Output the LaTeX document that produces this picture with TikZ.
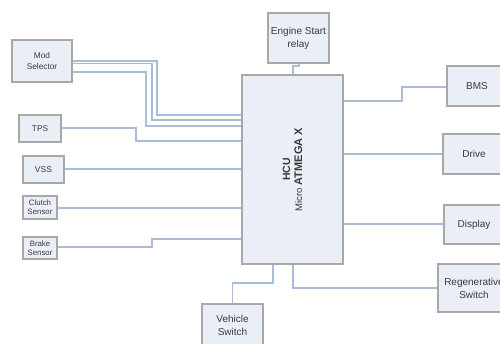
\documentclass[tikz,border=0pt]{standalone}
\usepackage{fontspec}
\setmainfont{Liberation Sans}
\definecolor{boxfill}{HTML}{E9EEF7}
\definecolor{boxdraw}{HTML}{A8A8A8}
\definecolor{wire}{HTML}{A9BDD9}
\definecolor{txt}{HTML}{3A3A3A}
\tikzset{
  blk/.style={draw=boxdraw, fill=boxfill, line width=1.1pt, inner sep=0pt, align=center, text=txt},
  conn/.style={draw=wire, line width=1.4pt},
}
\begin{document}
\begin{tikzpicture}[x=1pt,y=-1pt]
\useasboundingbox (0,0) rectangle (500,343);
\clip (0,0) rectangle (500,343);
\fill[white] (0,0) rectangle (500,343);
% blocks
\node[blk, minimum width=60pt, minimum height=42pt, font=\fontsize{8.3}{10.5}\selectfont] (mod) at (42,61) {Mod\\Selector};
\node[blk, minimum width=42pt, minimum height=27pt, font=\fontsize{8.3}{10}\selectfont] (tps) at (40,128.5) {TPS};
\node[blk, minimum width=41pt, minimum height=27pt, font=\fontsize{8.5}{10}\selectfont] (vss) at (43.5,169.5) {VSS};
\node[blk, minimum width=34pt, minimum height=23pt, font=\fontsize{7.8}{9}\selectfont] (clutch) at (40,207.5) {Clutch\\Sensor};
\node[blk, minimum width=34pt, minimum height=22pt, font=\fontsize{7.8}{9}\selectfont] (brake) at (40,248) {Brake\\Sensor};
\node[blk, minimum width=61pt, minimum height=50pt, font=\fontsize{10}{13}\selectfont] (eng) at (298.5,38) {Engine Start\\relay};
\node[blk, minimum width=101pt, minimum height=189pt] (hcu) at (292.5,169.5) {};
\node[rotate=90, align=center, text=txt, inner sep=0pt] (hcut) at (hcu.center) {{\fontsize{10.5}{11}\selectfont\bfseries HCU}\\{\fontsize{9.5}{12}\selectfont Micro }{\fontsize{11}{12}\selectfont\bfseries ATMEGA X}};
\node[blk, minimum width=60pt, minimum height=40pt, font=\fontsize{10}{12}\selectfont] (bms) at (477,86) {BMS};
\node[blk, minimum width=62pt, minimum height=40pt, font=\fontsize{10}{12}\selectfont] (drive) at (474,154) {Drive};
\node[blk, minimum width=60pt, minimum height=39pt, font=\fontsize{10}{12}\selectfont] (disp) at (474,224.5) {Display};
\node[blk, minimum width=72pt, minimum height=48pt, font=\fontsize{10}{13}\selectfont] (regen) at (474,288) {Regenerative\\Switch};
\node[blk, minimum width=61pt, minimum height=42pt, font=\fontsize{10}{13}\selectfont] (veh) at (232.5,325) {Vehicle\\Switch};
% connectors
\draw[conn] (mod.east |- 0,61) -| (157,115) -- (hcu.west |- 0,115);
\draw[conn] (mod.east |- 0,63.5) -| (152,120) -- (hcu.west |- 0,120);
\draw[conn] (mod.east |- 0,72) -| (146,126) -- (hcu.west |- 0,126);
\draw[conn] (tps.east |- 0,128) -| (136,141) -- (hcu.west |- 0,141);
\draw[conn] (vss.east |- 0,169) -- (hcu.west |- 0,169);
\draw[conn] (clutch.east |- 0,208) -- (hcu.west |- 0,208);
\draw[conn] (brake.east |- 0,247) -| (152,239) -- (hcu.west |- 0,239);
\draw[conn] (eng.south -| 299,0) -- (299,66) -| (hcu.north -| 293,0);
\draw[conn] (hcu.east |- 0,101) -| (402,87) -- (bms.west |- 0,87);
\draw[conn] (hcu.east |- 0,154) -- (drive.west |- 0,154);
\draw[conn] (hcu.east |- 0,224) -- (disp.west |- 0,224);
\draw[conn] (hcu.south -| 293,0) |- (regen.west |- 0,288);
\draw[conn] (hcu.south -| 273,0) -- (273,283) -| (veh.north);
\end{tikzpicture}
\end{document}
